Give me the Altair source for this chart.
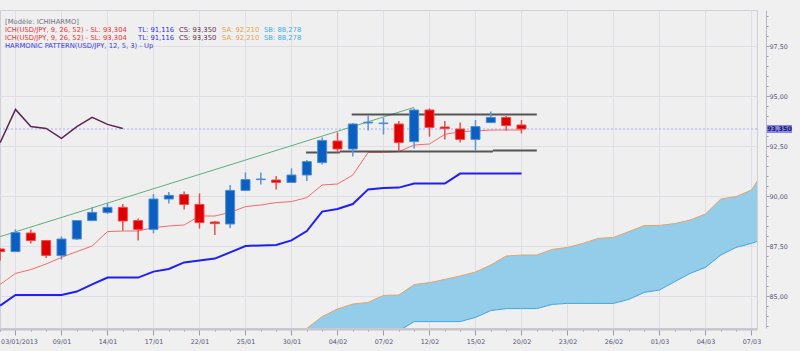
import json
import altair as alt
import pandas as pd

# ---------------- data ----------------
bar_idx = list(range(-1, 34))
opens = [87.35, 87.22, 88.15, 87.77, 87.02, 87.85, 88.77, 89.17, 89.43, 88.77,
         88.33, 89.85, 90.07, 89.58, 88.70, 88.60, 90.28, 90.82, 90.80, 90.68,
         91.05, 91.67, 92.75, 92.35, 93.65, 93.62, 93.60, 92.72, 94.30, 93.45,
         93.35, 92.83, 93.67, 93.93, 93.55]
highs = [87.40, 88.33, 88.33, 87.80, 87.98, 88.80, 89.43, 89.63, 89.60, 88.88,
         90.10, 90.20, 90.22, 90.13, 88.75, 90.55, 91.18, 91.18, 91.00, 91.38,
         91.80, 92.93, 93.18, 93.65, 94.02, 93.92, 93.75, 94.38, 94.38, 93.75,
         93.68, 93.80, 94.22, 94.00, 93.80]
lows = [86.77, 87.20, 87.63, 86.90, 86.82, 87.80, 88.75, 89.10, 88.27, 87.77,
        88.13, 89.63, 89.33, 88.37, 88.05, 88.40, 90.25, 90.58, 90.33, 90.65,
        90.75, 91.58, 92.18, 91.97, 93.27, 93.08, 92.22, 92.38, 92.97, 92.83,
        92.67, 92.27, 93.65, 93.27, 93.13]
closes = [87.22, 88.17, 87.77, 87.03, 87.85, 88.77, 89.18, 89.43, 88.75, 88.33,
          89.85, 90.03, 89.58, 88.67, 88.62, 90.28, 90.82, 90.85, 90.68, 91.05,
          91.72, 92.78, 92.35, 93.60, 93.69, 93.65, 92.67, 94.30, 93.43, 93.37,
          92.83, 93.47, 93.93, 93.52, 93.35]

tenkan = [85.58, 86.13, 86.32, 86.60, 86.93, 87.22, 87.50, 88.22, 88.25, 88.25,
          88.42, 88.50, 88.55, 89.00, 89.00, 89.18, 89.47, 89.55, 89.67, 89.72,
          89.92, 90.55, 90.60, 91.05, 92.18, 92.18, 92.22, 92.55, 92.60, 93.08,
          93.22, 93.25, 93.30, 93.30, 93.30]
kijun = [84.52, 85.05, 85.05, 85.05, 85.05, 85.22, 85.58, 85.92, 85.92, 85.92,
         86.22, 86.35, 86.68, 86.77, 86.87, 87.18, 87.50, 87.53, 87.55, 87.78,
         88.25, 89.22, 89.35, 89.60, 90.33, 90.40, 90.42, 90.62, 90.62, 90.62,
         91.12, 91.12, 91.12, 91.12, 91.12]

chikou_idx = list(range(-1, 8))
chikou = [92.67, 94.33, 93.47, 93.38, 92.88, 93.47, 93.93, 93.58, 93.38]

cloud_idx = list(range(19, 50))
senkou_a = [83.38, 83.97, 84.35, 84.60, 84.68, 85.03, 85.05, 85.57, 85.67, 85.83,
            86.00, 86.20, 86.55, 87.00, 87.05, 87.05, 87.33, 87.43, 87.63, 87.88,
            87.93, 88.22, 88.52, 88.53, 88.62, 88.80, 89.10, 89.85, 89.97, 90.30,
            91.50]
senkou_b = [83.00, 83.00, 83.00, 83.00, 83.00, 83.00, 83.25, 83.72, 83.72, 83.72,
            83.72, 83.93, 84.27, 84.37, 84.37, 84.37, 84.58, 84.63, 84.63, 84.63,
            84.63, 84.83, 85.18, 85.30, 85.72, 86.13, 86.43, 87.05, 87.43, 87.63,
            87.90]

trend_idx = [-1.0, 26.0]
trend_val = [87.97, 94.43]

harm_seg = ["top", "top", "low1", "low1", "low2", "low2", "low3", "low3"]
harm_idx = [21.93, 34.0, 18.95, 21.16, 21.16, 31.14, 31.14, 34.0]
harm_val = [94.07, 94.07, 92.18, 92.18, 92.23, 92.23, 92.28, 92.28]

last_close = [93.35]
last_close_label = ["93,350"]

date_labels = ["03/01/2013", "09/01", "14/01", "17/01", "22/01", "25/01", "30/01",
               "04/02", "07/02", "12/02", "15/02", "20/02", "23/02", "26/02",
               "01/03", "04/03", "07/03"]

legend_title = "[Modèle: ICHIHARMO]"
ich_parts = ["ICH(USD/JPY, 9, 26, 52) -  SL: 93,304", "TL: 91,116", "CS: 93,350",
             "SA: 92,210", "SB: 88,278"]
harm_text = "HARMONIC PATTERN(USD/JPY, 12, 5, 3) -  Up"

# ---------------- frames ----------------
candles = pd.DataFrame({"i": bar_idx, "o": opens, "h": highs, "l": lows, "c": closes})
candles["dir"] = ["up" if c >= o else "down" for o, c in zip(opens, closes)]
lines_df = pd.DataFrame({"i": bar_idx, "tenkan": tenkan, "kijun": kijun})
chikou_df = pd.DataFrame({"i": chikou_idx, "v": chikou})
cloud_df = pd.DataFrame({"i": cloud_idx, "a": senkou_a, "b": senkou_b})
trend_df = pd.DataFrame({"i": trend_idx, "v": trend_val})
harm_df = pd.DataFrame({"seg": harm_seg, "i": harm_idx, "v": harm_val})
last_df = pd.DataFrame({"v": last_close, "t": last_close_label})

# ---------------- scales & axes ----------------
W, H = 757, 318
FONT = "DejaVu Sans"
xs = alt.Scale(domain=[-1.01, 48.36], nice=False, zero=False, padding=0)
ys = alt.Scale(domain=[83.4, 99.3], nice=False, zero=False, padding=0)

x_major = "datum.value % 3 === 0"
x_label_expr = (f"({x_major} && datum.value >= 0) ? "
                f"{json.dumps(date_labels)}[datum.value / 3] : ''")
xaxis = alt.Axis(
    values=list(range(-1, 49)), labelExpr=x_label_expr, title=None, orient="bottom",
    offset=1, domainColor="#c4c4cc", domainWidth=2,
    tickColor="#9a9aaa", tickSize={"condition": {"test": x_major, "value": 6}, "value": 2},
    labelFont=FONT, labelFontSize=6.4, labelColor="#55557a", labelPadding=3,
    labelOffset={"condition": {"test": "datum.value === 0", "value": 3.5}, "value": 0},
    gridColor="#dedee4", gridOpacity={"condition": {"test": x_major, "value": 1}, "value": 0},
    labelOverlap=False, labelBound=False, labelFlush=False,
)
y_major = "datum.value % 2.5 === 0"
yaxis = alt.Axis(
    values=[83.5 + 0.5 * k for k in range(32)], orient="right", offset=9, title=None,
    labelExpr=f"{y_major} ? replace(format(datum.value, '.2f'), '.', ',') : ''",
    domainColor="#b8b8c8", tickColor="#9a9aaa",
    tickSize={"condition": {"test": y_major, "value": 3}, "value": 2},
    labelFont=FONT, labelFontSize=6.4, labelColor="#55557a", labelPadding=0,
    gridColor="#dedee4", gridOpacity={"condition": {"test": y_major, "value": 1}, "value": 0},
    labelOverlap=False, labelBound=False,
)

def X(f):
    return alt.X(f, type="quantitative", scale=xs, axis=xaxis)

def Y(f):
    return alt.Y(f, type="quantitative", scale=ys, axis=yaxis)

# ---------------- layers ----------------
cloud = alt.Chart(cloud_df).mark_area(color="#93cdea", opacity=1, clip=True).encode(
    x=X("i"), y=Y("a"), y2="b")
sa_line = alt.Chart(cloud_df).mark_line(color="#e4a46a", strokeWidth=1, clip=True).encode(
    x=X("i"), y=Y("a"))
sb_line = alt.Chart(cloud_df).mark_line(color="#3ea6e6", strokeWidth=1, clip=True).encode(
    x=X("i"), y=Y("b"))

last_rule = alt.Chart(last_df).mark_rule(color="#a8a8ff", strokeDash=[2, 2], strokeWidth=1).encode(
    y=Y("v"))

kijun_line = alt.Chart(lines_df).mark_line(color="#1f1ff5", strokeWidth=2).encode(
    x=X("i"), y=Y("kijun"))
tenkan_line = alt.Chart(lines_df).mark_line(color="#f86a6a", strokeWidth=1).encode(
    x=X("i"), y=Y("tenkan"))
chikou_line = alt.Chart(chikou_df).mark_line(color="#5c2452", strokeWidth=1.5, clip=True).encode(
    x=X("i"), y=Y("v"))
trend_line = alt.Chart(trend_df).mark_line(color="#5fae7e", strokeWidth=1, clip=True).encode(
    x=X("i"), y=Y("v"))
harm_lines = alt.Chart(harm_df).mark_line(color="#3a3a3a", strokeWidth=2, opacity=0.85).encode(
    x=X("i"), y=Y("v"), detail="seg")

dir_scale_wick = alt.Scale(domain=["up", "down"], range=["#5a96d6", "#e45050"])
dir_scale_body = alt.Scale(domain=["up", "down"], range=["#0b5fc1", "#de0000"])
dir_scale_edge = alt.Scale(domain=["up", "down"], range=["#4f8cd2", "#f04848"])
wicks = alt.Chart(candles).mark_rule(strokeWidth=1.5, clip=True).encode(
    x=X("i"), y=Y("l"), y2="h", color=alt.Color("dir:N", scale=dir_scale_wick, legend=None))
bodies = alt.Chart(candles).mark_bar(size=9, strokeWidth=1, clip=True).encode(
    x=X("i"), y=Y("o"), y2="c",
    fill=alt.Fill("dir:N", scale=dir_scale_body, legend=None),
    stroke=alt.Stroke("dir:N", scale=dir_scale_edge, legend=None))

# price tag on the right axis
tag_box = alt.Chart(last_df).mark_rule(color="#8686f4", strokeWidth=8, strokeCap="butt").encode(
    y=Y("v"), x=alt.value(767), x2=alt.value(792))
tag_text = alt.Chart(last_df).mark_text(font=FONT, fontSize=6.4, color="#1a1a50",
                                        fontWeight="bold", align="center", baseline="middle").encode(
    y=Y("v"), x=alt.value(779.5), text="t")

# legend texts (top-left)
def label(text, color, px, py):
    return alt.Chart(pd.DataFrame({"t": [text]})).mark_text(
        font=FONT, fontSize=6.8, color=color, align="left", baseline="middle").encode(
        x=alt.value(px), y=alt.value(py - 10), text="t")

ich_colors = ["#f03030", "#3030f0", "#603050", "#f0a050", "#40b0f0"]
ich_x = [5, 138, 179, 222, 264]
legend_layers = [label(legend_title, "#707080", 5, 22.3)]
for row_y in (30.2, 38.1):
    for txt, col, px in zip(ich_parts, ich_colors, ich_x):
        legend_layers.append(label(txt, col, px, row_y))
legend_layers.append(label(harm_text, "#3a3ae6", 5, 46.0))

chart = alt.layer(
    cloud, sa_line, sb_line, last_rule, kijun_line, tenkan_line, trend_line,
    chikou_line, harm_lines, wicks, bodies, tag_box, tag_text, *legend_layers
).resolve_scale(color="independent", fill="independent", stroke="independent").properties(
    width=W, height=H, autosize="none",
    padding={"left": 0, "top": 10, "right": 43, "bottom": 23},
    background="#f0f0f0",
).configure_view(fill="#efefef", stroke="#cfcfd8", strokeWidth=1)

chart.save("out.html", embed_options={"renderer": "svg", "actions": False})
